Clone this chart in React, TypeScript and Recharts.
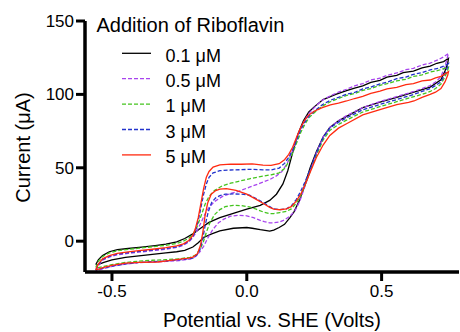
import React from 'react';
import { LineChart, Line, XAxis, YAxis, Legend, Label } from 'recharts';

type Pt = [number, number];

// Loops traced as: left vertex -> upper branch -> right vertex -> lower branch -> left vertex
const black01: Pt[] = [
  [-0.56,-16],[-0.55,-12.5],[-0.535,-9.8],[-0.51,-7.2],[-0.48,-5.8],[-0.44,-5],[-0.39,-4.1],[-0.34,-3],[-0.3,-2],[-0.26,-0.5],[-0.23,1.8],[-0.2,5],[-0.17,9],[-0.14,12.8],[-0.1,16],[-0.05,19],[0,21.8],[0.05,24.4],[0.085,27.8],[0.11,32],[0.134,39],[0.152,48],[0.171,61],[0.19,73],[0.21,82],[0.23,88],[0.25,91.5],[0.283,96.5],[0.33,100],[0.37,102.5],[0.4,104.3],[0.43,105.8],[0.46,108.2],[0.494,109.5],[0.52,111.8],[0.556,113],[0.58,114.8],[0.618,115.8],[0.65,118],[0.68,119.3],[0.705,121.2],[0.73,122.3],[0.748,124.5],
  [0.745,121],[0.735,116],[0.72,110],[0.68,105],[0.62,101.5],[0.556,98],[0.5,95],[0.43,91],[0.37,85],[0.34,82],[0.308,77.5],[0.283,71],[0.258,61],[0.235,50],[0.215,38],[0.196,28],[0.175,20],[0.16,16],[0.14,11.5],[0.12,9.3],[0.1,7.5],[0.085,6.8],[0.05,7.8],[0.02,8.8],[0,9.3],[-0.05,8.8],[-0.1,7],[-0.13,5],[-0.16,2.5],[-0.18,-1],[-0.2,-4],[-0.23,-6.3],[-0.26,-7.2],[-0.3,-8],[-0.35,-9],[-0.4,-10],[-0.45,-11],[-0.5,-12.8],[-0.53,-14.5],[-0.55,-15.8],[-0.56,-16],
];

const purple05: Pt[] = [
  [-0.56,-20],[-0.55,-16.5],[-0.535,-13],[-0.51,-10.8],[-0.48,-9.3],[-0.44,-8.3],[-0.4,-7.5],[-0.35,-6.5],[-0.3,-5.5],[-0.26,-4.3],[-0.235,-2.8],[-0.215,-0.5],[-0.2,2.5],[-0.185,7],[-0.17,12.5],[-0.155,18.5],[-0.14,23],[-0.12,27],[-0.09,30.5],[-0.06,32.5],[-0.03,34],[0.01,36.8],[0.05,39.5],[0.085,42],[0.11,44.5],[0.13,47.5],[0.15,53],[0.17,62],[0.185,70],[0.2,77],[0.215,82.5],[0.23,87],[0.25,91],[0.28,96],[0.31,99],[0.34,101.5],[0.37,103.5],[0.4,105.8],[0.43,107.3],[0.46,109.8],[0.494,111],[0.52,113],[0.556,114.6],[0.59,116.8],[0.618,117.8],[0.65,120],[0.68,121.3],[0.71,123.6],[0.73,125.5],[0.748,128],
  [0.745,126],[0.735,119],[0.72,112],[0.7,108.5],[0.68,106],[0.65,104],[0.62,102],[0.556,98.5],[0.5,95.5],[0.43,91],[0.37,85.5],[0.34,82],[0.308,77.5],[0.283,71],[0.258,60],[0.235,48],[0.215,37],[0.196,27],[0.178,20.5],[0.16,17],[0.14,14.5],[0.12,13],[0.1,12.5],[0.085,12.5],[0.065,13.3],[0.048,14.3],[0.025,16],[0,17.3],[-0.03,17.6],[-0.06,17],[-0.085,15],[-0.105,12.5],[-0.126,8],[-0.145,2],[-0.16,-3.5],[-0.175,-7.5],[-0.19,-10.5],[-0.21,-12.2],[-0.25,-13.2],[-0.3,-13.8],[-0.35,-14.2],[-0.4,-14.6],[-0.45,-15.6],[-0.5,-17.2],[-0.53,-18.6],[-0.55,-19.6],[-0.56,-20],
];

const green1: Pt[] = [
  [-0.56,-18],[-0.55,-13.5],[-0.535,-10.5],[-0.51,-8],[-0.48,-6.5],[-0.44,-5.6],[-0.4,-4.8],[-0.35,-3.8],[-0.3,-2.8],[-0.26,-1.5],[-0.235,0],[-0.215,2],[-0.2,4.5],[-0.185,9.5],[-0.17,17],[-0.155,25],[-0.14,30.5],[-0.12,34.5],[-0.09,37.8],[-0.06,39.5],[-0.03,40.8],[0.01,42.5],[0.05,44],[0.09,45.2],[0.12,46.5],[0.14,49.5],[0.155,54],[0.17,60],[0.185,67],[0.2,74],[0.215,79.5],[0.23,84],[0.25,87.5],[0.28,92],[0.31,95],[0.34,97.2],[0.37,99.3],[0.4,100.6],[0.43,102.8],[0.46,104],[0.494,106.2],[0.52,107.3],[0.556,109.2],[0.59,110.3],[0.618,112.2],[0.65,113.3],[0.68,115.2],[0.71,116.3],[0.73,117.5],[0.748,118.5],
  [0.745,116.5],[0.735,112],[0.72,107],[0.7,104],[0.68,102],[0.65,100],[0.62,98.5],[0.556,95],[0.5,92],[0.43,88],[0.37,82.5],[0.34,79.5],[0.308,75.5],[0.283,69],[0.258,58.5],[0.235,47.5],[0.215,37.5],[0.2,31],[0.184,26],[0.165,22],[0.147,20.3],[0.122,19.5],[0.1,18.8],[0.085,18.8],[0.06,20],[0.035,21.8],[0.01,23.3],[-0.02,24.2],[-0.05,24.4],[-0.08,23.5],[-0.1,21.5],[-0.12,18],[-0.138,12],[-0.15,6],[-0.162,-1],[-0.175,-6],[-0.19,-9.5],[-0.21,-11],[-0.25,-12],[-0.3,-12.6],[-0.35,-13],[-0.4,-13.6],[-0.45,-14.5],[-0.5,-16],[-0.53,-17.2],[-0.55,-18],[-0.56,-18],
];

const blue3: Pt[] = [
  [-0.56,-19.5],[-0.55,-16],[-0.535,-12.5],[-0.51,-10.3],[-0.48,-8.8],[-0.44,-7.8],[-0.4,-7],[-0.35,-6],[-0.3,-5],[-0.26,-3.8],[-0.235,-2.3],[-0.215,0],[-0.2,3],[-0.19,7.5],[-0.18,14],[-0.17,23],[-0.16,32],[-0.15,39],[-0.14,43.5],[-0.125,46.5],[-0.1,48],[-0.06,48.5],[-0.02,48.7],[0.02,49],[0.06,48.6],[0.09,48.5],[0.12,49.8],[0.14,53],[0.155,57],[0.17,62],[0.185,69],[0.2,76],[0.215,81],[0.23,85],[0.25,88.5],[0.28,93],[0.31,96],[0.34,98],[0.37,100.2],[0.4,101.3],[0.43,103.8],[0.46,105],[0.494,107.2],[0.52,108.3],[0.556,110.7],[0.59,111.8],[0.618,113.7],[0.65,114.8],[0.68,116.7],[0.71,117.8],[0.73,119.2],[0.748,121],
  [0.745,119],[0.735,114],[0.72,108.5],[0.7,106],[0.68,104],[0.65,102],[0.62,100],[0.556,96.5],[0.5,93.5],[0.43,89.5],[0.37,84],[0.34,81],[0.308,77],[0.283,70.5],[0.258,60],[0.235,49],[0.215,40],[0.2,34],[0.184,28.5],[0.165,24],[0.147,22],[0.122,21.5],[0.1,22],[0.085,23.5],[0.06,26.5],[0.035,29],[0.01,31.3],[-0.02,32],[-0.05,32.2],[-0.08,32],[-0.1,31],[-0.115,29.5],[-0.13,26.5],[-0.143,20],[-0.153,12],[-0.162,3],[-0.172,-5],[-0.185,-9.5],[-0.2,-11.5],[-0.24,-12.5],[-0.3,-13.5],[-0.35,-14],[-0.4,-14.5],[-0.45,-15.5],[-0.5,-17],[-0.53,-18.2],[-0.55,-19.2],[-0.56,-19.5],
];

const red5: Pt[] = [
  [-0.56,-19.5],[-0.55,-15.5],[-0.535,-12],[-0.51,-9.8],[-0.48,-8.3],[-0.44,-7.3],[-0.4,-6.5],[-0.35,-5.5],[-0.3,-4.4],[-0.26,-3.2],[-0.235,-1.8],[-0.215,0.5],[-0.2,4],[-0.19,9],[-0.18,16],[-0.17,26],[-0.16,36],[-0.15,43.5],[-0.14,47.5],[-0.125,50.5],[-0.1,52],[-0.06,52.5],[-0.02,52.4],[0.02,52.6],[0.06,51.8],[0.09,51.6],[0.12,52.8],[0.14,55.5],[0.155,59],[0.17,64],[0.185,71],[0.2,77.5],[0.215,82.5],[0.23,86],[0.25,88.5],[0.28,91],[0.31,92.8],[0.34,94],[0.37,95.5],[0.4,97.2],[0.43,98.6],[0.46,100.7],[0.494,102.3],[0.52,103.7],[0.556,104.8],[0.59,106.7],[0.618,107.3],[0.65,109.2],[0.68,109.8],[0.7,111.2],[0.72,112.3],[0.748,115.5],
  [0.745,113],[0.735,108.5],[0.72,104],[0.7,101.5],[0.68,100],[0.65,98],[0.62,95.5],[0.6,94.5],[0.556,93],[0.5,90],[0.43,86],[0.37,80],[0.34,77],[0.308,72],[0.283,65.5],[0.258,57],[0.235,47],[0.215,38],[0.2,32],[0.184,27.5],[0.165,23.5],[0.147,22],[0.122,21.4],[0.1,21.8],[0.085,23],[0.06,25.8],[0.035,28.5],[0,32],[-0.04,34.6],[-0.076,35.8],[-0.1,35.5],[-0.115,34.5],[-0.132,32],[-0.145,26],[-0.155,17],[-0.163,6],[-0.172,-3],[-0.183,-8.5],[-0.2,-10.8],[-0.215,-11.5],[-0.24,-12],[-0.29,-13.2],[-0.33,-14.2],[-0.4,-14.4],[-0.45,-15],[-0.5,-16.5],[-0.53,-17.8],[-0.55,-19],[-0.56,-19.5],
];

const seriesNames = ['0.1 \u03bcM', '0.5 \u03bcM', '1 \u03bcM', '3 \u03bcM', '5 \u03bcM'];
const seriesColors = ['#000000', '#a844ee', '#44c41e', '#2233cc', '#ff2a10'];
const seriesDash = ['', '4 2', '4 2', '4 2', ''];
const seriesLoops = [black01, purple05, green1, blue3, red5];

const xTicks = [-0.5, 0, 0.5];
const yTicks = [0, 50, 100, 150];
const legendTitle = 'Addition of Riboflavin';
const xTitle = 'Potential vs. SHE (Volts)';
const yTitle = 'Current (\u03bcA)';

const FONT = '"Liberation Sans", Arial, Helvetica, sans-serif';

const toRows = (loop: Pt[]) => loop.map(([x, y]) => ({ x, y }));

const LegendBox = () => (
  <svg width={460} height={170} style={{ display: 'block', fontFamily: FONT }}>
    <text x={96.5} y={31.5} fontSize={20} fill="#000">{legendTitle}</text>
    {seriesNames.map((name, i) => {
      const y = 53.3 + i * 25.4;
      return (
        <g key={name}>
          <line x1={122} x2={151} y1={y} y2={y} stroke={seriesColors[i]} strokeWidth={1.3}
            strokeDasharray={seriesDash[i] || undefined} />
          <text x={165.5} y={y + 8.3} fontSize={18} fill="#000">{name}</text>
        </g>
      );
    })}
  </svg>
);

export default function App() {
  return (
    <div style={{ position: 'absolute', left: 0, top: 0, fontFamily: FONT }}>
      <LineChart width={460} height={332} margin={{ top: 21, right: 1, bottom: 0, left: 25 }}>
        <XAxis
          type="number"
          dataKey="x"
          domain={[-0.6, 0.787]}
          ticks={xTicks}
          allowDataOverflow
          tickFormatter={(v: number) => v.toFixed(1)}
          height={60}
          tickSize={9}
          tickMargin={4}
          axisLine={{ stroke: '#000', strokeWidth: 3.5 }}
          tickLine={{ stroke: '#000', strokeWidth: 3 }}
          tick={{ fill: '#000', fontSize: 17, fontFamily: FONT }}
        >
          <Label value={xTitle} position="insideBottom" offset={5}
            style={{ fontSize: 20, fill: '#000', fontFamily: FONT }} />
        </XAxis>
        <YAxis
          type="number"
          dataKey="y"
          domain={[-21, 150]}
          ticks={yTicks}
          allowDataOverflow
          width={60}
          tickSize={9}
          tickMargin={2}
          axisLine={{ stroke: '#000', strokeWidth: 3.5 }}
          tickLine={{ stroke: '#000', strokeWidth: 3 }}
          tick={{ fill: '#000', fontSize: 17, fontFamily: FONT }}
          label={{
            content: () => (
              <text x={30} y={147.5} transform="rotate(-90 30 147.5)" textAnchor="middle"
                fontSize={20} fill="#000" fontFamily={FONT}>{yTitle}</text>
            ),
          }}
        />
        <Legend
          layout="vertical"
          align="center"
          verticalAlign="middle"
          wrapperStyle={{ left: 0, top: 0, width: 460, height: 170, pointerEvents: 'none' }}
          content={() => <LegendBox />}
        />
        {seriesLoops.map((loop, i) => (
          <Line
            key={seriesNames[i]}
            name={seriesNames[i]}
            data={toRows(loop)}
            dataKey="y"
            type="linear"
            stroke={seriesColors[i]}
            strokeWidth={1.3}
            strokeDasharray={seriesDash[i] || undefined}
            dot={false}
            activeDot={false}
            isAnimationActive={false}
          />
        ))}
      </LineChart>
    </div>
  );
}
